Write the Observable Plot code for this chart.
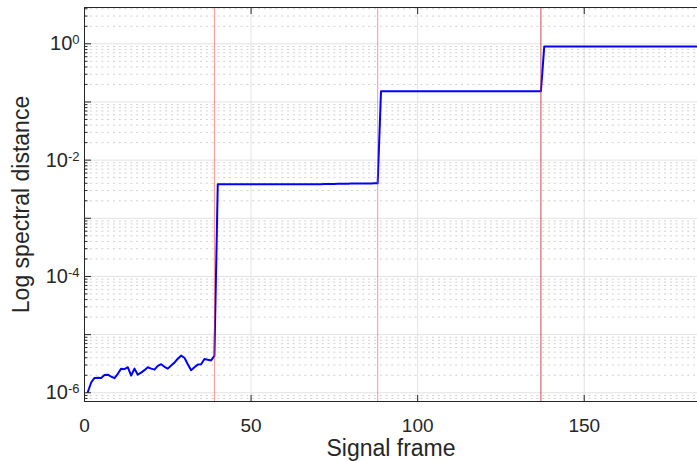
<!DOCTYPE html>
<html>
<head>
<meta charset="utf-8">
<script src="https://cdn.jsdelivr.net/npm/d3@7"></script>
<script src="https://cdn.jsdelivr.net/npm/@observablehq/plot@0.6"></script>
<style>
  html, body { margin: 0; padding: 0; background: #fff; }
  #chart svg { display: block; }
</style>
</head>
<body>
<div id="chart"></div>
<script>
// Log spectral distance per signal frame (frames 1..184)
const stage1 = [ // frames 1-39
  1.03e-6, 1.5e-6, 1.8e-6, 1.82e-6, 1.8e-6, 2.02e-6, 2.05e-6, 1.9e-6, 1.78e-6, 2.12e-6,
  2.6e-6, 2.55e-6, 2.75e-6, 1.98e-6, 2.6e-6, 2.05e-6, 2.22e-6, 2.45e-6, 2.75e-6, 2.6e-6,
  2.5e-6, 2.9e-6, 3.1e-6, 2.8e-6, 2.6e-6, 2.95e-6, 3.3e-6, 3.85e-6, 4.35e-6, 4.0e-6,
  3.1e-6, 2.45e-6, 2.75e-6, 3.05e-6, 3.1e-6, 3.8e-6, 3.7e-6, 3.6e-6, 4.3e-6
];
const stage2 = [ // frames 40-88
  3.86e-3, 3.86e-3, 3.86e-3, 3.86e-3, 3.86e-3, 3.86e-3, 3.86e-3, 3.86e-3, 3.86e-3, 3.86e-3,
  3.86e-3, 3.86e-3, 3.86e-3, 3.86e-3, 3.86e-3, 3.86e-3, 3.86e-3, 3.86e-3, 3.86e-3, 3.86e-3,
  3.86e-3, 3.86e-3, 3.86e-3, 3.86e-3, 3.86e-3, 3.86e-3, 3.86e-3, 3.86e-3, 3.86e-3, 3.86e-3,
  3.86e-3, 3.86e-3, 3.87e-3, 3.88e-3, 3.89e-3, 3.9e-3, 3.91e-3, 3.92e-3, 3.93e-3, 3.94e-3,
  3.95e-3, 3.96e-3, 3.96e-3, 3.97e-3, 3.97e-3, 3.98e-3, 3.98e-3, 3.99e-3, 3.99e-3
];
const stage3 = [ // frames 89-137
  0.153, 0.153, 0.153, 0.153, 0.153, 0.153, 0.153, 0.153, 0.153, 0.153,
  0.153, 0.153, 0.153, 0.153, 0.153, 0.153, 0.153, 0.153, 0.153, 0.153,
  0.153, 0.153, 0.153, 0.153, 0.153, 0.153, 0.153, 0.153, 0.153, 0.153,
  0.153, 0.153, 0.153, 0.153, 0.153, 0.153, 0.153, 0.153, 0.153, 0.153,
  0.153, 0.153, 0.153, 0.153, 0.153, 0.153, 0.153, 0.153, 0.153
];
const stage4 = [ // frames 138-184
  0.9, 0.9, 0.9, 0.9, 0.9, 0.9, 0.9, 0.9, 0.9, 0.9,
  0.9, 0.9, 0.9, 0.9, 0.9, 0.9, 0.9, 0.9, 0.9, 0.9,
  0.9, 0.9, 0.9, 0.9, 0.9, 0.9, 0.9, 0.9, 0.9, 0.9,
  0.9, 0.9, 0.9, 0.9, 0.9, 0.9, 0.9, 0.9, 0.9, 0.9,
  0.9, 0.9, 0.9, 0.9, 0.9, 0.9, 0.9
];

// Frames where the distortion changes
const changeFrames = [39, 88, 137];
const changeColors = ["#ff3b3b", "#ff3b3b", "#c02c36"];
const changeOpacity = [0.55, 0.55, 0.85];

// Axis ticks
const xTicks = [0, 50, 100, 150];
const xInnerTicks = [50, 100, 150];
const yLabelTicks = [1e-6, 1e-4, 1e-2, 1];
const xDomain = [0, 184];
const yDomain = [7.08e-7, 4.21];

const distance = [...stage1, ...stage2, ...stage3, ...stage4];
const series = distance.map((d, i) => ({frame: i + 1, d}));

const logTicks = d3.scaleLog().domain(yDomain).ticks();
const decades = logTicks.filter(t => Math.abs(Math.log10(t) - Math.round(Math.log10(t))) < 1e-9);
const minors = logTicks.filter(t => !decades.includes(t));

const changes = changeFrames.map((f, i) => ({frame: f, color: changeColors[i], op: changeOpacity[i]}));

const font = "'Liberation Sans', Arial, Helvetica, sans-serif";

const chart = Plot.plot({
  width: 697,
  height: 461,
  marginLeft: 84,
  marginRight: 0,
  marginTop: 7,
  marginBottom: 60,
  style: {fontFamily: font, background: "#fff", color: "#262626"},
  x: {domain: xDomain, label: null},
  y: {type: "log", domain: yDomain, label: null},
  marks: [
    Plot.gridX(xInnerTicks, {stroke: "#e2e2e2", strokeOpacity: 1}),
    Plot.ruleY(minors, {stroke: "#c4c4c4", strokeDasharray: "2,3.8", strokeOpacity: 0.8}),
    Plot.ruleY(decades, {stroke: "#e2e2e2"}),
    Plot.line(series, {x: "frame", y: "d", stroke: "#0000ff", strokeWidth: 2}),
    Plot.ruleX(changes, {x: "frame", stroke: "color", strokeOpacity: "op", strokeWidth: 1}),
    // axes box (left, top, bottom)
    Plot.ruleX([xDomain[0]], {stroke: "#262626"}),
    Plot.ruleY(yDomain, {stroke: "#262626"}),
    // inward tick marks
    Plot.axisX({anchor: "bottom", ticks: xInnerTicks, tickSize: 6, dy: -6, tickFormat: () => "", label: null, stroke: "#262626"}),
    Plot.axisX({anchor: "top", ticks: xInnerTicks, tickSize: 6, dy: 6, tickFormat: () => "", label: null, stroke: "#262626"}),
    Plot.axisY({anchor: "left", ticks: decades, tickSize: 7, dx: 7, tickFormat: () => "", label: null, stroke: "#262626"}),
    Plot.axisY({anchor: "left", ticks: minors, tickSize: 3.5, dx: 3.5, tickFormat: () => "", label: null, stroke: "#262626"}),
    // tick labels
    Plot.axisX({anchor: "bottom", ticks: xTicks, tickSize: 0, tickPadding: 17, fontSize: 19, label: "Signal frame",
                labelAnchor: "center", labelArrow: "none", labelOffset: 54}),
    Plot.axisY({anchor: "left", ticks: yLabelTicks, tickSize: 0, tickPadding: 5, fontSize: 20,
                tickFormat: d => "10^" + Math.round(Math.log10(d)),
                label: "Log spectral distance", labelAnchor: "center", labelArrow: "none", labelOffset: 72})
  ]
});

// superscript exponents on the log-axis labels, larger axis titles
d3.select(chart).selectAll("text").each(function() {
  const t = d3.select(this);
  const s = this.textContent;
  const m = /^10\^(-?\d+)$/.exec(s);
  if (m) {
    t.text(null);
    t.append("tspan").text("10");
    t.append("tspan").attr("dy", "-0.45em").attr("font-size", "13px").text(m[1]);
  } else if (s === "Signal frame" || s === "Log spectral distance") {
    t.attr("font-size", 23).attr("fill", "#262626");
  }
});
d3.select(chart).selectAll("g[aria-label$='tick label']").attr("fill", "#262626");

document.getElementById("chart").append(chart);
</script>
</body>
</html>
